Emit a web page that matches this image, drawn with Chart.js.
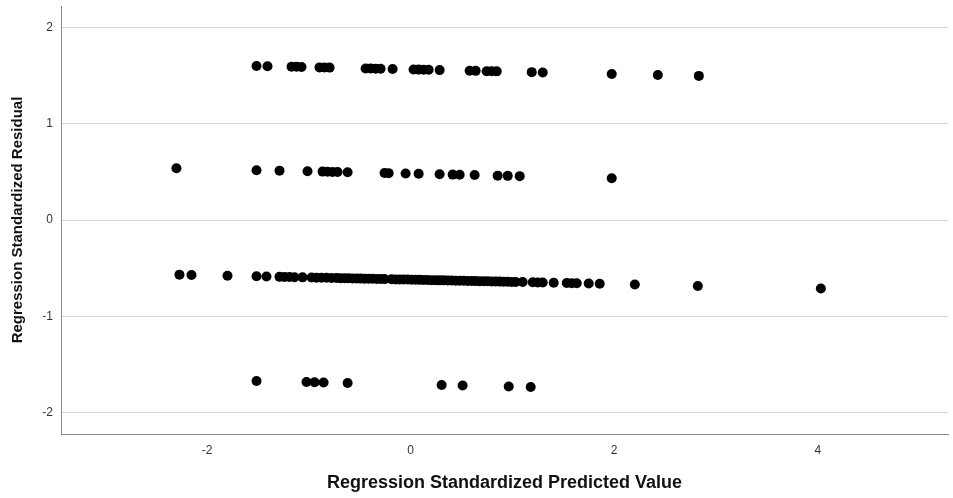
<!DOCTYPE html>
<html>
<head>
<meta charset="utf-8">
<script src="https://cdn.jsdelivr.net/npm/chart.js@4/dist/chart.umd.min.js"></script>
<style>
  html, body { margin: 0; padding: 0; background: #fff; }
  #residPlot { display: block; }
</style>
</head>
<body>
<canvas id="residPlot" width="953" height="498"></canvas>
<script>
// standardized predicted value / standardized residual, one pair of arrays per band
const predBand1 = [-1.514, -1.406, -1.170, -1.121, -1.072, -0.895, -0.846, -0.796, -0.442, -0.393, -0.344, -0.295, -0.177, 0.029, 0.079, 0.128, 0.177, 0.285, 0.580, 0.639, 0.747, 0.796, 0.846, 1.190, 1.298, 1.976, 2.429, 2.832];
const residBand1 = [1.598, 1.595, 1.590, 1.589, 1.587, 1.583, 1.582, 1.581, 1.572, 1.571, 1.570, 1.569, 1.566, 1.561, 1.560, 1.559, 1.558, 1.555, 1.548, 1.547, 1.544, 1.543, 1.542, 1.534, 1.531, 1.515, 1.504, 1.495];

const predBand2 = [-2.301, -1.514, -1.288, -1.013, -0.865, -0.816, -0.767, -0.718, -0.619, -0.256, -0.216, -0.049, 0.079, 0.285, 0.413, 0.482, 0.629, 0.855, 0.954, 1.072, 1.976];
const residBand2 = [0.536, 0.517, 0.512, 0.505, 0.502, 0.501, 0.499, 0.498, 0.496, 0.487, 0.486, 0.482, 0.479, 0.474, 0.471, 0.469, 0.466, 0.460, 0.458, 0.455, 0.434];

const predBand3 = [-2.271, -2.153, -1.799, -1.514, -1.416, -1.288, -1.239, -1.190, -1.141, -1.062, -0.973, -0.924, -0.875, -0.826, -0.777, -0.728, -0.688, -0.649, -0.610, -0.570, -0.531, -0.492, -0.452, -0.413, -0.374, -0.334, -0.295, -0.256, -0.187, -0.147, -0.108, -0.069, -0.029, 0.010, 0.049, 0.088, 0.128, 0.167, 0.206, 0.246, 0.285, 0.324, 0.364, 0.403, 0.442, 0.482, 0.521, 0.560, 0.600, 0.639, 0.678, 0.718, 0.757, 0.796, 0.836, 0.875, 0.914, 0.954, 0.993, 1.032, 1.101, 1.200, 1.249, 1.298, 1.406, 1.534, 1.583, 1.632, 1.750, 1.858, 2.203, 2.822, 4.031];
const residBand3 = [-0.567, -0.570, -0.578, -0.584, -0.587, -0.590, -0.591, -0.592, -0.593, -0.595, -0.597, -0.598, -0.599, -0.600, -0.601, -0.602, -0.603, -0.604, -0.605, -0.606, -0.607, -0.608, -0.609, -0.610, -0.610, -0.611, -0.612, -0.613, -0.615, -0.616, -0.617, -0.617, -0.618, -0.619, -0.620, -0.621, -0.622, -0.623, -0.624, -0.625, -0.626, -0.626, -0.627, -0.628, -0.629, -0.630, -0.631, -0.632, -0.633, -0.634, -0.635, -0.635, -0.636, -0.637, -0.638, -0.639, -0.640, -0.641, -0.642, -0.643, -0.644, -0.646, -0.648, -0.649, -0.651, -0.654, -0.655, -0.656, -0.659, -0.662, -0.669, -0.684, -0.711];

const predBand4 = [-1.514, -1.023, -0.944, -0.855, -0.619, 0.305, 0.511, 0.964, 1.180];
const residBand4 = [-1.670, -1.681, -1.683, -1.685, -1.691, -1.712, -1.717, -1.727, -1.732];

const xTicks = [-2, 0, 2, 4];
const yTicks = [-2, -1, 0, 1, 2];
const xRange = [-3.435, 5.28];
const yRange = [-2.22, 2.22];

const xTitle = 'Regression Standardized Predicted Value';
const yTitle = 'Regression Standardized Residual';

function toPoints(xs, ys) {
    return xs.map((x, i) => ({ x: x, y: ys[i] }));
}

const points = [].concat(
    toPoints(predBand1, residBand1),
    toPoints(predBand2, residBand2),
    toPoints(predBand3, residBand3),
    toPoints(predBand4, residBand4)
);

const ctx = document.getElementById('residPlot').getContext('2d');
new Chart(ctx, {
    type: 'scatter',
    data: {
        datasets: [{
            data: points,
            backgroundColor: '#000',
            borderWidth: 0,
            pointRadius: 5,
            pointHoverRadius: 5
        }]
    },
    options: {
        responsive: false,
        animation: false,
        layout: { padding: { top: 6, right: 1, left: 0, bottom: 0 } },
        plugins: {
            legend: { display: false },
            tooltip: { enabled: false }
        },
        scales: {
            x: {
                type: 'linear',
                min: xRange[0],
                max: xRange[1],
                afterBuildTicks(scale) { scale.ticks = xTicks.map(v => ({ value: v })); },
                afterFit(scale) {
                    scale.height = 64;
                    scale.paddingLeft = 0;
                    scale.paddingRight = 0;
                },
                grid: { display: false, drawTicks: false },
                border: { display: true, color: '#8a8a8a', width: 1 },
                ticks: {
                    color: '#333',
                    padding: 9,
                    font: { family: 'Liberation Sans, Arial, sans-serif', size: 12 },
                    maxRotation: 0
                },
                title: {
                    display: true,
                    text: xTitle,
                    color: '#111',
                    padding: { top: 4, bottom: 4 },
                    font: { family: 'Liberation Sans, Arial, sans-serif', size: 18, weight: 'bold' }
                }
            },
            y: {
                type: 'linear',
                min: yRange[0],
                max: yRange[1],
                afterBuildTicks(scale) { scale.ticks = yTicks.map(v => ({ value: v })); },
                afterFit(scale) {
                    scale.width = 61;
                    scale.paddingTop = 0;
                    scale.paddingBottom = 0;
                },
                grid: { color: '#d6d6d6', lineWidth: 1, drawTicks: false },
                border: { display: true, color: '#8a8a8a', width: 1 },
                ticks: {
                    color: '#333',
                    padding: 8,
                    font: { family: 'Liberation Sans, Arial, sans-serif', size: 12 }
                },
                title: {
                    display: true,
                    text: yTitle,
                    color: '#111',
                    padding: { top: 9, bottom: 4 },
                    font: { family: 'Liberation Sans, Arial, sans-serif', size: 15, weight: 'bold' }
                }
            }
        }
    }
});
</script>
</body>
</html>
